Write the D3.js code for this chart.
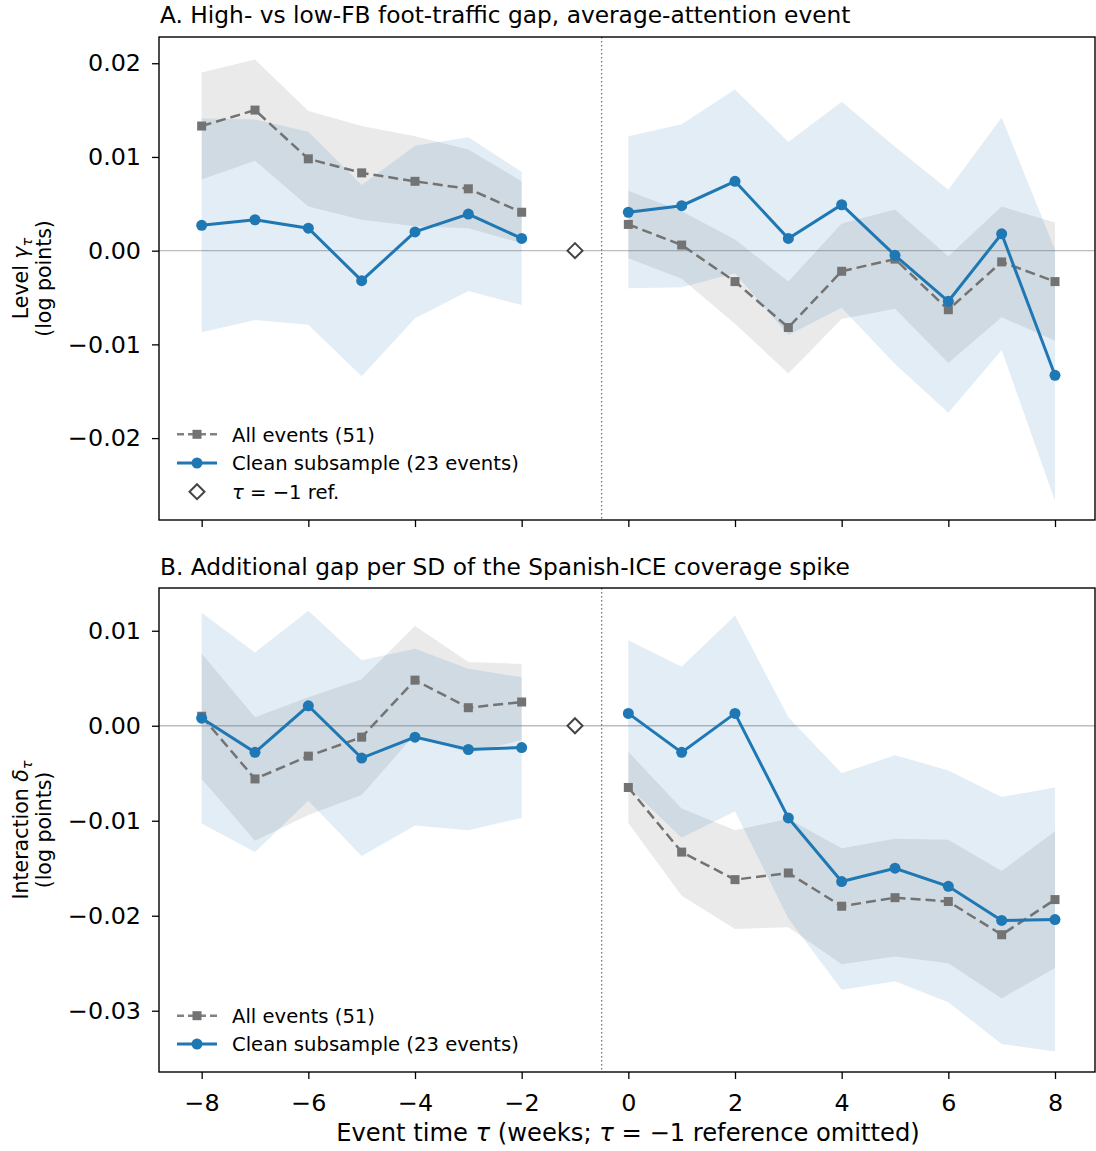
<!DOCTYPE html>
<html><head><meta charset="utf-8">
<script src="https://cdn.jsdelivr.net/npm/d3@7"></script>
<style>body{margin:0;background:#fff} svg{display:block} text{font-family:"DejaVu Sans",sans-serif;fill:#000}</style>
</head><body><svg id="c" width="1096" height="1151"></svg>
<script>
// ---------- data ----------
const tau = [-8,-7,-6,-5,-4,-3,-2,0,1,2,3,4,5,6,7,8];
const refTau = -1;
const xTicks = [-8,-6,-4,-2,0,2,4,6,8];
const yTicksA = [-0.02,-0.01,0,0.01,0.02];
const yTicksB = [-0.03,-0.02,-0.01,0,0.01];

// Panel A: level gamma_tau
const aAllEst   = [0.0133,0.0150,0.0098,0.0083,0.0074,0.0066,0.0041, 0.0028,0.0006,-0.0033,-0.0082,-0.0022,-0.0009,-0.0063,-0.0012,-0.0033];
const aAllHalf  = [0.0057,0.0054,0.0051,0.0050,0.0048,0.0042,0.0033, 0.0036,0.0036,0.0045,0.0049,0.0051,0.0053,0.0057,0.0059,0.0063];
const aCleanEst = [0.0027,0.0033,0.0024,-0.0032,0.0020,0.0039,0.0013, 0.0041,0.0048,0.0074,0.0013,0.0049,-0.0005,-0.0054,0.0018,-0.0133];
const aCleanHalf= [0.0114,0.0107,0.0103,0.0102,0.0092,0.0082,0.0071, 0.0081,0.0087,0.0098,0.0103,0.0110,0.0116,0.0119,0.0124,0.0134];

// Panel B: interaction delta_tau
const bAllEst   = [0.0010,-0.0056,-0.0032,-0.0012,0.0048,0.0019,0.0025, -0.0065,-0.0133,-0.0162,-0.0155,-0.0190,-0.0181,-0.0185,-0.0220,-0.0183];
const bAllHalf  = [0.0066,0.0065,0.0062,0.0061,0.0057,0.0048,0.0040, 0.00375,0.0046,0.0052,0.0057,0.0061,0.0062,0.0065,0.0067,0.0072];
const bCleanEst = [0.0008,-0.0028,0.0021,-0.0034,-0.0012,-0.0025,-0.0023, 0.0013,-0.0028,0.0013,-0.0097,-0.0164,-0.0150,-0.0169,-0.0205,-0.0204];
const bCleanHalf= [0.0111,0.0105,0.0100,0.0103,0.0093,0.0085,0.0074, 0.0077,0.0090,0.0103,0.0106,0.0114,0.0119,0.0122,0.0130,0.0139];

const labelAll = "All events (51)";
const labelClean = "Clean subsample (23 events)";

// ---------- style ----------
const BLUE = "#1f77b4", GRAY = "#737373";
const svg = d3.select("#c");
const L = 159, R = 1095;
const x = d3.scaleLinear().domain([-8.8, 8.75]).range([L, R]);
const minus = s => String(s).replace("-", "\u2212");
const fmtY = d => (d < 0 ? "\u2212" : "") + Math.abs(d).toFixed(2);

const panels = [
  {top:37, bottom:520, dom:[-0.02874,0.0228], ticks:yTicksA, all:aAllEst, allH:aAllHalf, cl:aCleanEst, clH:aCleanHalf,
   title:"A. High- vs low-FB foot-traffic gap, average-attention event", titleY:23,
   yl1:["Level ", "\u03b3", "\u03c4"], xlabels:false, legend:[434.3,463,491.7], showRef:true},
  {top:588, bottom:1072, dom:[-0.03645,0.0145], ticks:yTicksB, all:bAllEst, allH:bAllHalf, cl:bCleanEst, clH:bCleanHalf,
   title:"B. Additional gap per SD of the Spanish-ICE coverage spike", titleY:575,
   yl1:["Interaction ", "\u03b4", "\u03c4"], xlabels:true, legend:[1015.7,1044], showRef:false}
];

panels.forEach((p, pi) => {
  const y = d3.scaleLinear().domain(p.dom).range([p.bottom, p.top]);
  const g = svg.append("g");
  const clipId = "clip" + pi;
  svg.append("clipPath").attr("id", clipId).append("rect")
    .attr("x", L).attr("y", p.top).attr("width", R - L).attr("height", p.bottom - p.top);
  const plot = g.append("g").attr("clip-path", `url(#${clipId})`);

  const rows = tau.map((t, i) => ({t, a:p.all[i], ah:p.allH[i], c:p.cl[i], ch:p.clH[i]}));
  const segs = [rows.filter(r => r.t < refTau), rows.filter(r => r.t > refTau)];

  // zero line
  plot.append("line").attr("x1", L).attr("x2", R).attr("y1", y(0)).attr("y2", y(0))
    .attr("stroke", "#bdbdbd").attr("stroke-width", 1.3);

  // bands
  segs.forEach(s => {
    plot.append("path").datum(s)
      .attr("d", d3.area().x(d => x(d.t)).y0(d => y(d.a - d.ah)).y1(d => y(d.a + d.ah)))
      .attr("fill", GRAY).attr("fill-opacity", 0.15);
    plot.append("path").datum(s)
      .attr("d", d3.area().x(d => x(d.t)).y0(d => y(d.c - d.ch)).y1(d => y(d.c + d.ch)))
      .attr("fill", BLUE).attr("fill-opacity", 0.13);
  });

  // vertical dotted line at -0.5
  plot.append("line").attr("x1", x(-0.5)).attr("x2", x(-0.5)).attr("y1", p.top).attr("y2", p.bottom)
    .attr("stroke", "#6a6a6a").attr("stroke-width", 1.2).attr("stroke-dasharray", "1.5,2.5");

  // lines
  segs.forEach(s => {
    plot.append("path").datum(s)
      .attr("d", d3.line().x(d => x(d.t)).y(d => y(d.a)))
      .attr("fill", "none").attr("stroke", GRAY).attr("stroke-width", 2.5).attr("stroke-dasharray", "10,5");
  });
  plot.selectAll(".sq").data(rows).join("rect")
    .attr("x", d => x(d.t) - 4.5).attr("y", d => y(d.a) - 4.5).attr("width", 9).attr("height", 9)
    .attr("fill", GRAY);
  segs.forEach(s => {
    plot.append("path").datum(s)
      .attr("d", d3.line().x(d => x(d.t)).y(d => y(d.c)))
      .attr("fill", "none").attr("stroke", BLUE).attr("stroke-width", 3);
  });
  plot.selectAll(".ci").data(rows).join("circle")
    .attr("cx", d => x(d.t)).attr("cy", d => y(d.c)).attr("r", 5.5).attr("fill", BLUE);

  // reference diamond
  const dm = 7.5;
  plot.append("path")
    .attr("d", `M${x(refTau)},${y(0)-dm}L${x(refTau)+dm},${y(0)}L${x(refTau)},${y(0)+dm}L${x(refTau)-dm},${y(0)}Z`)
    .attr("fill", "#fff").attr("stroke", "#444").attr("stroke-width", 2);

  // axes
  const ya = g.append("g").attr("transform", `translate(${L},0)`)
    .call(d3.axisLeft(y).tickValues(p.ticks).tickSize(7).tickPadding(11).tickFormat(fmtY));
  const xa = g.append("g").attr("transform", `translate(0,${p.bottom})`)
    .call(d3.axisBottom(x).tickValues(xTicks).tickSize(7).tickPadding(15)
      .tickFormat(p.xlabels ? (d => minus(d)) : (() => "")));
  [ya, xa].forEach(a => {
    a.attr("font-family", null).attr("font-size", 23.8);
    a.select(".domain").remove();
    a.selectAll(".tick line").attr("stroke", "#000").attr("stroke-width", 1.3);
    a.selectAll(".tick text").attr("fill", "#000");
  });

  // frame
  g.append("rect").attr("x", L).attr("y", p.top).attr("width", R - L).attr("height", p.bottom - p.top)
    .attr("fill", "none").attr("stroke", "#000").attr("stroke-width", 1.4);

  // title
  g.append("text").attr("x", L + 1).attr("y", p.titleY).attr("font-size", 23.3).text(p.title);

  // y label (two lines)
  const yc = (p.top + p.bottom) / 2;
  const t1 = g.append("text").attr("transform", `translate(28,${yc}) rotate(-90)`)
    .attr("text-anchor", "middle").attr("font-size", 20.5);
  t1.append("tspan").text(p.yl1[0]);
  t1.append("tspan").attr("font-style", "italic").text(p.yl1[1]);
  t1.append("tspan").attr("font-style", "italic").attr("font-size", 14.5).attr("dy", "0.3em").text(p.yl1[2]);
  g.append("text").attr("transform", `translate(51,${yc}) rotate(-90)`)
    .attr("text-anchor", "middle").attr("font-size", 20.5).text("(log points)");

  // legend
  const lx0 = 177, lx1 = 217, lxm = 197, tx = 232, fs = 19.6;
  const lg = g.append("g");
  const r0 = p.legend[0], r1 = p.legend[1];
  lg.append("line").attr("x1", lx0).attr("x2", lx1).attr("y1", r0).attr("y2", r0)
    .attr("stroke", GRAY).attr("stroke-width", 2.5).attr("stroke-dasharray", "7,4").attr("stroke-opacity", 0.9);
  lg.append("rect").attr("x", lxm - 4.5).attr("y", r0 - 4.5).attr("width", 9).attr("height", 9).attr("fill", GRAY);
  lg.append("text").attr("x", tx).attr("y", r0 + 7.4).attr("font-size", fs).text(labelAll);
  lg.append("line").attr("x1", lx0).attr("x2", lx1).attr("y1", r1).attr("y2", r1)
    .attr("stroke", BLUE).attr("stroke-width", 3);
  lg.append("circle").attr("cx", lxm).attr("cy", r1).attr("r", 5.5).attr("fill", BLUE);
  lg.append("text").attr("x", tx).attr("y", r1 + 7.4).attr("font-size", fs).text(labelClean);
  if (p.showRef) {
    const r2 = p.legend[2];
    lg.append("path").attr("d", `M${lxm},${r2-dm}L${lxm+dm},${r2}L${lxm},${r2+dm}L${lxm-dm},${r2}Z`)
      .attr("fill", "#fff").attr("stroke", "#444").attr("stroke-width", 2);
    const t = lg.append("text").attr("x", tx).attr("y", r2 + 7.4).attr("font-size", fs);
    t.append("tspan").attr("font-style", "italic").text("\u03c4");
    t.append("tspan").text(" = \u22121 ref.");
  }
});

// x axis label
const xl = svg.append("text").attr("x", 628).attr("y", 1141).attr("text-anchor", "middle").attr("font-size", 24.2);
xl.append("tspan").text("Event time ");
xl.append("tspan").attr("font-style", "italic").text("\u03c4");
xl.append("tspan").text(" (weeks; ");
xl.append("tspan").attr("font-style", "italic").text("\u03c4");
xl.append("tspan").text(" = \u22121 reference omitted)");
</script></body></html>
